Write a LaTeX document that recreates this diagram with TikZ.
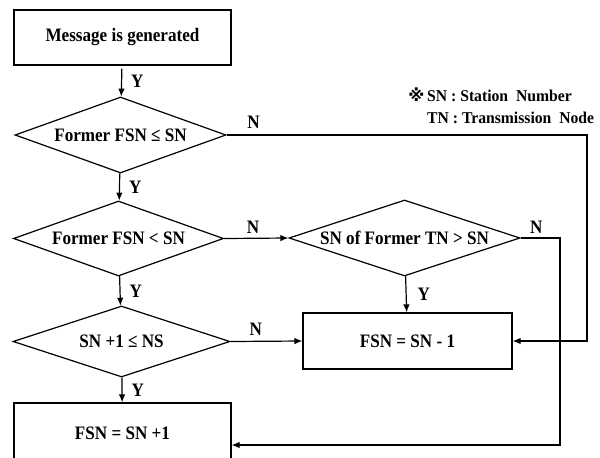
\documentclass[tikz,border=0pt]{standalone}
\usepackage{fontspec}
\setmainfont{Liberation Serif}[FakeStretch=0.9]
\newfontfamily\notefont{Liberation Serif}[FakeStretch=0.95]
\newfontfamily\symfont{DejaVu Sans}
\usepackage{tikz}
\usetikzlibrary{shapes.geometric,arrows.meta}
\tikzstyle{Box}=[rectangle, draw=black, line width=1.2pt, font=\fontsize{19}{22}\selectfont\bfseries, text centered]
\tikzstyle{Decision}=[diamond, draw=black, line width=1.2pt, inner sep=0pt, aspect=2.8, font=\fontsize{19}{22}\selectfont\bfseries, text centered]
\tikzstyle{Flow}=[line width=1.2pt, -{Latex[length=8pt,width=6.5pt]}]
\tikzstyle{Lab}=[font=\fontsize{19}{22}\selectfont\bfseries, inner sep=1pt]
\tikzstyle{Note}=[font=\notefont\fontsize{16.5}{20}\selectfont\bfseries, inner sep=0pt, anchor=base west]

\begin{document}
\begin{tikzpicture}[x=1pt, y=-1pt]
    \useasboundingbox (0,0) rectangle (600,458);
    \path
    (122.5,37.5) node[Box, minimum width=217, minimum height=55] (msg) {Message is generated}
    (120.5,135) node[Decision, minimum width=211, minimum height=76] (fsnle) {Former FSN ≤ SN}
    (118.5,238.5) node[Decision, minimum width=210, minimum height=75] (fsnlt) {Former FSN < SN}
    (404.5,238) node[Decision, minimum width=231, minimum height=76] (tngt) {SN of Former TN > SN}
    (121.5,341.5) node[Decision, minimum width=217, minimum height=71] (snns) {SN +1 ≤ NS}
    (407.5,341) node[Box, minimum width=209, minimum height=56] (fsnm) {FSN = SN - 1}
    (122.5,433) node[Box, minimum width=217, minimum height=60] (fsnp) {FSN = SN +1};

    \path
    (427,101) node[Note] (snnote) {\llap{\symfont ※\,}SN : Station\ \ Number}
    (427,123) node[Note] (tnnote) {TN : Transmission\ \ Node};

    \coordinate (c1) at (587,135);
    \coordinate (c2) at (560,238);
    \coordinate (c3) at (560,445);

    \draw[Flow, shorten <=3pt] (msg) -- node[Lab, right=8pt] {Y} (fsnle);
    \draw[Flow] (fsnle) -- node[Lab, right=8pt] {Y} (fsnlt);
    \draw[Flow] (fsnlt) -- node[Lab, right=8pt] {Y} (snns);
    \draw[Flow] (snns) -- node[Lab, right=8pt] {Y} (fsnp);
    \draw[Flow] (tngt) -- node[Lab, right=10pt] {Y} (fsnm);

    \draw[Flow] (fsnle.east) -- node[Lab, pos=0.075, above=5pt] {N} (c1) |- (fsnm.east);
    \draw[Flow] (fsnlt.east) -- node[Lab, pos=0.45, above=3pt] {N} (tngt.west);
    \draw[Flow] (snns.east) -- node[Lab, pos=0.35, above=4pt] {N} (fsnm.west);
    \draw[Flow] (tngt.east) -- node[Lab, pos=0.4, above=3pt] {N} (c2) -- (c3) -- (fsnp.east |- c3);
\end{tikzpicture}
\end{document}
